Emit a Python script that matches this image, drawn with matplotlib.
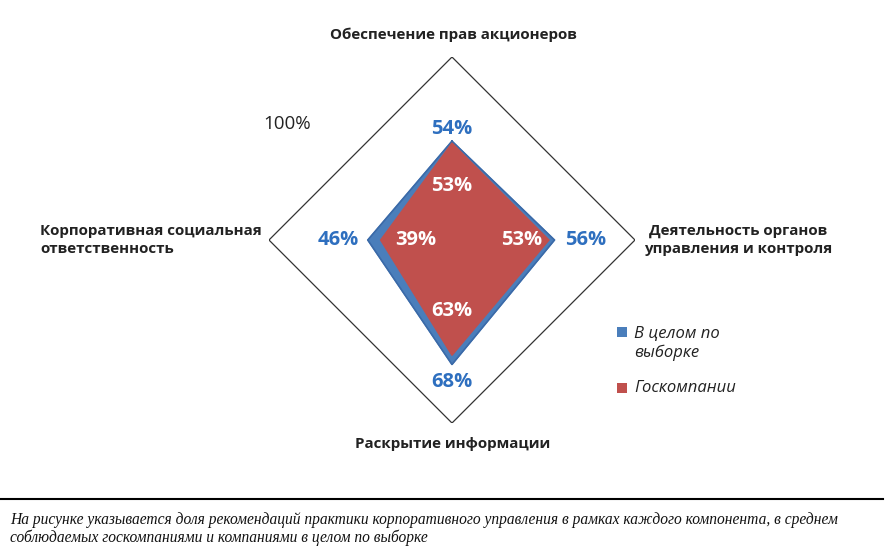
import numpy as np
import matplotlib
matplotlib.use("Agg")
import matplotlib.pyplot as plt
from matplotlib.patches import Rectangle
from matplotlib.lines import Line2D

categories = ["Обеспечение прав акционеров",
              "Деятельность органов\nуправления и контроля",
              "Раскрытие информации",
              "Корпоративная социальная\nответственность"]
overall = [54, 56, 68, 46]
state = [53, 53, 63, 39]
series_names = ["В целом по\nвыборке", "Госкомпании"]
blue = "#4a7ebb"
red = "#c0504d"
label_blue = "#2e6fbf"

plt.rcParams['font.family'] = ['Open Sans', 'DejaVu Sans']

fig = plt.figure(figsize=(8.96, 5.6), dpi=100)
ax = fig.add_axes([0.3002, 0.2446, 0.4085, 0.6536], projection='polar')
ax.set_theta_offset(np.pi / 2)
ax.set_theta_direction(-1)
ax.set_ylim(0, 100)
ax.grid(False)
ax.set_xticks([])
ax.set_yticks([])
ax.spines['polar'].set_visible(False)
ax.patch.set_alpha(0)

n = len(categories)
theta = np.arange(n) * 2 * np.pi / n
th_c = np.append(theta, theta[0])

# outer frame at 100%
ax.plot(th_c, [100] * (n + 1), color="#333333", lw=0.9)

ov = np.append(overall, overall[0])
st = np.append(state, state[0])
ax.fill(th_c, ov, color=blue, zorder=2)
ax.plot(th_c, ov, color="#3b6aa8", lw=1.2, zorder=2)
ax.fill(th_c, st, color=red, zorder=3)

# value labels
blue_off = [(0, 12), (31, 0), (0, -18), (-30, 0)]
red_off = [(0, -43), (-27, 0), (0, 44), (35, 0)]
vfs = 14.5
for t, v, o in zip(theta, overall, blue_off):
    ax.annotate(f"{v}%", xy=(t, v), xytext=(o[0] * 0.72, o[1] * 0.72),
                textcoords='offset points', ha='center', va='center',
                fontsize=vfs, fontweight='bold', color=label_blue, zorder=5)
for t, v, o in zip(theta, state, red_off):
    ax.annotate(f"{v}%", xy=(t, v), xytext=(o[0] * 0.72, o[1] * 0.72),
                textcoords='offset points', ha='center', va='center',
                fontsize=vfs, fontweight='bold', color='white', zorder=5)

# category labels
fs = 10.9
fig.text(453 / 896, 1 - 35 / 560, categories[0], ha='center', va='center',
         fontsize=fs, fontweight='bold', color='#222222')
fig.text(738 / 896, 1 - 240 / 560, categories[1], ha='center', va='center',
         fontsize=fs, fontweight='bold', color='#222222', linespacing=1.45)
fig.text(453 / 896, 1 - 444 / 560, categories[2], ha='center', va='center',
         fontsize=fs, fontweight='bold', color='#222222')
fig.text(40 / 896, 1 - 240 / 560, categories[3], ha='left', va='center',
         fontsize=fs, fontweight='bold', color='#222222', linespacing=1.45)

fig.text(287 / 896, 1 - 124 / 560, "100%", ha='center', va='center',
         fontsize=13.5, color='#222222')

# legend (square aligned with first line of each entry)
leg_colors = [blue, red]
leg_sq_tops = [327, 383]
leg_txt_tops = [326, 380]
for c, name, sq, tt in zip(leg_colors, series_names, leg_sq_tops, leg_txt_tops):
    fig.add_artist(Rectangle((617 / 896, 1 - (sq + 10) / 560), 10 / 896, 10 / 560,
                             facecolor=c, edgecolor='none',
                             transform=fig.transFigure))
    fig.text(634 / 896, 1 - tt / 560, name, ha='left', va='top',
             fontsize=12, style='italic', color='#222222', linespacing=1.25)

fig.add_artist(Line2D([0.0, 0.985], [1 - 499 / 560, 1 - 499 / 560],
                      color='black', lw=1.5, transform=fig.transFigure))
cap_kw = dict(ha='left', va='center', fontsize=11.2, style='italic',
              family=['Liberation Serif', 'DejaVu Serif'], color='#111111')
fig.text(10 / 896, 1 - 520 / 560,
         "На рисунке указывается доля рекомендаций практики корпоративного управления в рамках каждого компонента, в среднем",
         **cap_kw)
fig.text(10 / 896, 1 - 538 / 560,
         "соблюдаемых госкомпаниями и компаниями в целом по выборке",
         **cap_kw)

fig.savefig("out.png", dpi=100)
